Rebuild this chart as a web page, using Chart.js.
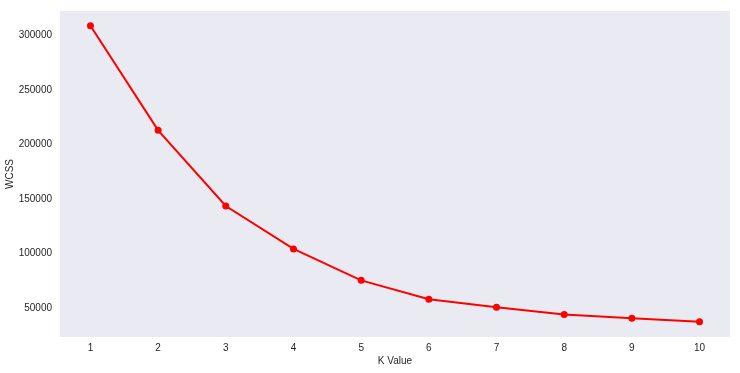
<!DOCTYPE html>
<html>
<head>
<meta charset="utf-8">
<script src="https://cdn.jsdelivr.net/npm/chart.js@4"></script>
<style>
  html, body { margin: 0; padding: 0; background: #fff; }
  #wrap { width: 740px; height: 373px; }
</style>
</head>
<body>
<div id="wrap"><canvas id="myChart"></canvas></div>
<script>
const kValues = [1, 2, 3, 4, 5, 6, 7, 8, 9, 10];
const wcss = [309100, 213100, 143600, 104200, 75400, 58100, 50800, 44000, 40700, 37500];
const yTicks = [50000, 100000, 150000, 200000, 250000, 300000];

const fontFamily = '"Liberation Sans", Arial, sans-serif';
const textColor = '#262626';

// fill the plot area like seaborn darkgrid
const plotBg = {
  id: 'plotBg',
  beforeDraw(chart) {
    const a = chart.chartArea;
    const ctx = chart.ctx;
    ctx.save();
    ctx.fillStyle = '#EAEAF2';
    ctx.fillRect(a.left, a.top, a.right - a.left, a.bottom - a.top);
    ctx.restore();
  }
};

const chartEl = document.getElementById('myChart');
const myChart = new Chart(chartEl, {
  type: 'line',
  data: {
    datasets: [{
      data: kValues.map((k, i) => ({ x: k, y: wcss[i] })),
      borderColor: '#ff0000',
      backgroundColor: '#ff0000',
      borderWidth: 2,
      pointRadius: 3.5,
      pointBorderWidth: 0,
      pointBackgroundColor: '#ff0000',
      tension: 0
    }]
  },
  options: {
    responsive: true,
    maintainAspectRatio: false,
    animation: false,
    devicePixelRatio: 1,
    layout: { padding: { top: 11, right: 10, left: 0, bottom: 0 } },
    plugins: { legend: { display: false }, tooltip: { enabled: false } },
    scales: {
      x: {
        type: 'linear',
        min: 0.55,
        max: 10.45,
        grid: { display: false, drawTicks: false },
        border: { display: false },
        afterBuildTicks: (scale) => { scale.ticks = kValues.map(v => ({ value: v })); },
        afterFit: (scale) => {
          scale.height = 36;
          scale.paddingLeft = 0;
          scale.paddingRight = 0;
        },
        ticks: {
          color: textColor,
          font: { family: fontFamily, size: 10 },
          padding: 5,
          maxRotation: 0,
          callback: (v) => String(v)
        },
        title: {
          display: true,
          text: 'K Value',
          color: textColor,
          font: { family: fontFamily, size: 10 },
          padding: { top: 0, bottom: 6 }
        }
      },
      y: {
        min: 23400,
        max: 322600,
        grid: { display: false, drawTicks: false },
        border: { display: false },
        afterBuildTicks: (scale) => { scale.ticks = yTicks.map(v => ({ value: v })); },
        afterFit: (scale) => {
          scale.width = 60;
          scale.paddingTop = 0;
          scale.paddingBottom = 0;
        },
        ticks: {
          color: textColor,
          font: { family: fontFamily, size: 10 },
          padding: 8,
          callback: (v) => String(v)
        },
        title: {
          display: true,
          text: 'WCSS',
          color: textColor,
          font: { family: fontFamily, size: 10 },
          padding: { top: 4, bottom: 0 }
        }
      }
    }
  },
  plugins: [plotBg]
});
</script>
</body>
</html>
